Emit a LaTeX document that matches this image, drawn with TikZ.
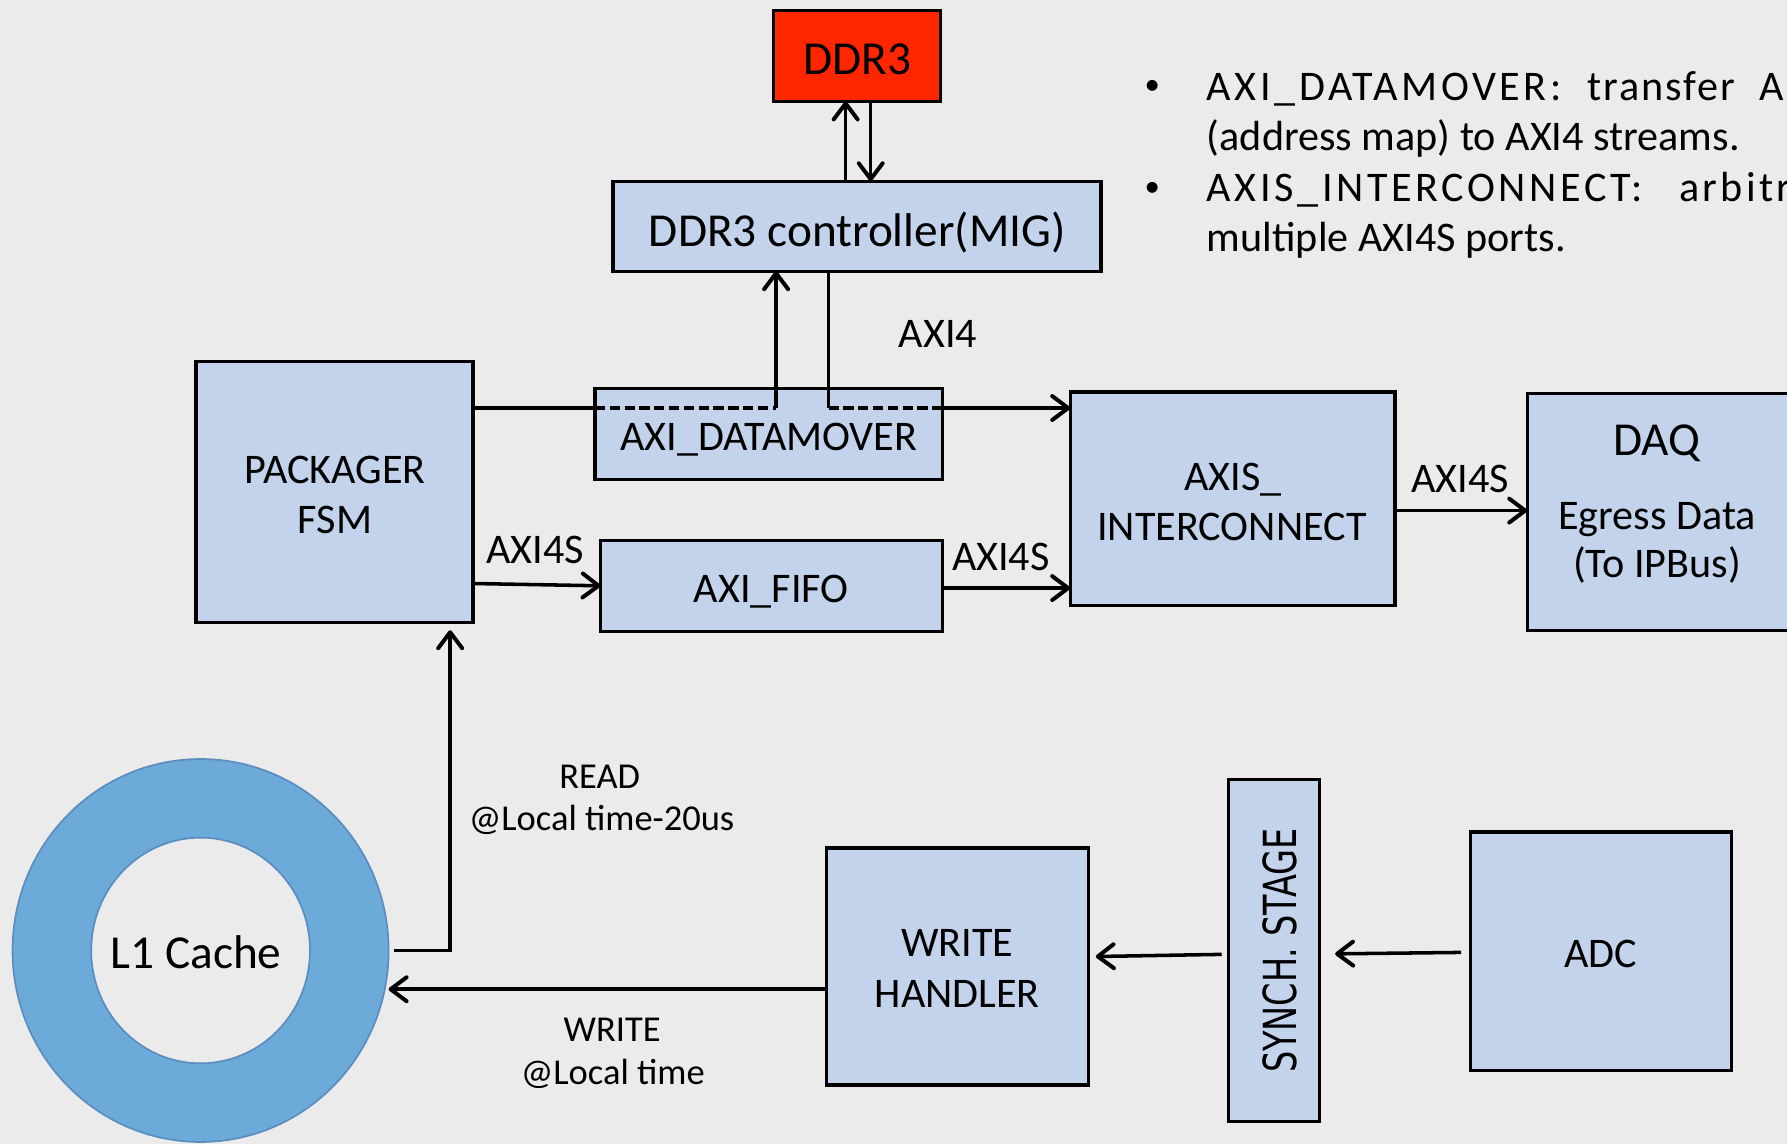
\documentclass[tikz,border=0pt]{standalone}
\usepackage{fontspec}
\usepackage{graphicx}
\setmainfont{Carlito}
\newfontfamily\synchfont{DejaVu Sans}
\usetikzlibrary{arrows.meta,shapes.geometric}

\definecolor{bg}{HTML}{EBEBEB}
\definecolor{boxfill}{HTML}{C2D3EB}
\definecolor{ddrred}{HTML}{FF2600}
\definecolor{ringfill}{HTML}{6CAAD9}
\definecolor{ringedge}{HTML}{5B8DBF}

\tikzset{
  blk/.style={draw=black, line width=2.9pt, fill=boxfill, inner sep=0pt, outer sep=0pt},
  lbl/.style={anchor=base, inner sep=0pt, outer sep=0pt, font=\fontsize{37}{44}\selectfont},
  biglbl/.style={lbl, font=\fontsize{41.5}{50}\selectfont},
  smalllbl/.style={lbl, font=\fontsize{32}{38}\selectfont},
  bulletlbl/.style={lbl, font=\fontsize{27}{32}\selectfont},
  wire/.style={line width=3.1pt},
  arr/.style={wire, -{Straight Barb[length=14pt,width=21pt,line width=3.5pt,line cap=round,line join=round]}},
  dashwire/.style={line width=3pt, dash pattern=on 9pt off 4pt},
  note/.style={anchor=base west, inner sep=0pt, outer sep=0pt},
}

\begin{document}
\begin{tikzpicture}[x=1pt,y=-1pt]
  \useasboundingbox (0,0) rectangle (1568,1004);
  \clip (0,0) rectangle (1568,1004);
  \fill[bg] (0,0) rectangle (1568,1004);

  % memory side
  \node[blk, fill=ddrred, minimum width=146, minimum height=80] (ddr) at (752,49) {};
  \node[biglbl] at (752.6,65.8) {DDR3};
  \node[blk, minimum width=428, minimum height=79] (ctrl) at (752,198.5) {};
  \node[biglbl] at (752.2,216.4) {DDR3 controller(MIG)};

  \draw[arr] ([xshift=-10pt]ctrl.north) -- ([xshift=-10pt]ddr.south);
  \draw[arr] ([xshift=12pt]ddr.south) -- ([xshift=12pt]ctrl.north);

  % packager and interconnect
  \node[blk, minimum width=243, minimum height=229] (pkg) at (293.5,431.5) {};
  \node[lbl] at (294,424) {PACKAGER};
  \node[lbl] at (294,468) {FSM};

  \node[blk, minimum width=285, minimum height=187] (axis) at (1081.5,437.5) {};
  \node[lbl] at (1082,430.8) {AXIS\_};
  \node[lbl] at (1081,474.4) {INTERCONNECT};

  \node[blk, minimum width=232, minimum height=208] (daq) at (1456,449) {};
  \node[biglbl] at (1454,400) {DAQ};
  \node[lbl] at (1454,465) {Egress Data};
  \node[lbl] at (1454,507) {(To IPBus)};

  % stream path behind the datamover
  \draw[arr] (pkg.east |- 0,358) -- (axis.west |- 0,358);

  \node[blk, minimum width=305, minimum height=80] (dm) at (674.5,381) {};
  \node[lbl] at (674.7,395.4) {AXI\_DATAMOVER};

  \coordinate (dmL) at (681,358);
  \coordinate (dmR) at (727,358);
  \coordinate (dmEnd) at (885,358);
  \draw[arr] (dmL) -- (dmL |- ctrl.south);
  \draw[wire] (ctrl.south -| dmR) -- (dmR);
  \draw[dashwire] (dm.west |- dmL) -- (dmL);
  \draw[dashwire] (dmR) -- (dmEnd);
  \node[lbl] at (823,304.5) {AXI4};

  \node[blk, minimum width=300, minimum height=80] (fifo) at (677,514) {};
  \node[lbl] at (676.8,528.5) {AXI\_FIFO};

  \draw[arr] (pkg.east |- 0,512) -- (fifo.west);
  \node[lbl] at (469.7,494.3) {AXI4S};
  \draw[arr] (fifo.east |- 0,516) -- (axis.west |- 0,516);
  \node[lbl] at (878.2,500.7) {AXI4S};
  \draw[arr] (axis.east |- 0,448) -- (daq.west |- 0,448);
  \node[lbl] at (1281,432.3) {AXI4S};

  % notes
  \node[bulletlbl] at (1011,83) {•};
  \node[note, font=\fontsize{37}{44}\selectfont\addfontfeatures{LetterSpace=8.5}] at (1059,88) {AXI\_DATAMOVER:};
  \node[note, font=\fontsize{37}{44}\selectfont\addfontfeatures{LetterSpace=4.5}] at (1393,88) {transfer};
  \node[note, font=\fontsize{37}{44}\selectfont] at (1544,88) {A};
  \node[note, font=\fontsize{37}{44}\selectfont] at (1059,132) {(address map) to AXI4 streams.};
  \node[bulletlbl] at (1011,172) {•};
  \node[note, font=\fontsize{37}{44}\selectfont\addfontfeatures{LetterSpace=8.5}] at (1059,177) {AXIS\_INTERCONNECT:};
  \node[note, font=\fontsize{37}{44}\selectfont\addfontfeatures{LetterSpace=8}] at (1473.5,177) {arbitr};
  \node[note, font=\fontsize{37}{44}\selectfont] at (1059,221) {multiple AXI4S ports.};

  % acquisition side
  \node[blk, minimum width=229, minimum height=209] (adc) at (1404.5,834.5) {};
  \node[lbl] at (1404.6,848.8) {ADC};
  \node[blk, minimum width=80, minimum height=300] (synch) at (1118,834) {};
  \node[rotate=90, inner sep=0pt, font=\synchfont\fontsize{40}{48}\selectfont] at (1123,834) {\scalebox{0.735}[1]{SYNCH. STAGE}};
  \node[blk, minimum width=230, minimum height=208] (wh) at (840,848) {};
  \node[lbl] at (840,839.4) {WRITE};
  \node[lbl] at (840,884) {HANDLER};

  \draw[arr, shorten <=8pt, shorten >=13.5pt] (adc.west |- 0,835.6) -- (synch.east |- 0,837.1);
  \draw[arr, shorten <=6pt, shorten >=6.5pt] (synch.west |- 0,837.3) -- (wh.east |- 0,839.4);

  % L1 cache ring
  \node[ellipse, draw=ringedge, line width=1.5pt, fill=ringfill, minimum width=330, minimum height=336, inner sep=0pt] (ring) at (176,834) {};
  \node[ellipse, draw=ringedge, line width=1.5pt, fill=bg, minimum width=192, minimum height=198, inner sep=0pt] (hole) at (176,834) {};
  \node[biglbl] at (172,850) {L1 Cache};

  \coordinate (ringin) at (341,868);
  \draw[arr] (wh.west |- ringin) -- (ringin);
  \draw[arr] ([xshift=4pt]ring.east) -| ([xshift=-20pt,yshift=-7pt]pkg.south east);

  \node[smalllbl] at (526.2,691.7) {READ};
  \node[smalllbl] at (527.8,729) {@Local time-20us};
  \node[smalllbl] at (537.2,914) {WRITE};
  \node[smalllbl] at (537.7,952) {@Local time};
\end{tikzpicture}
\end{document}
